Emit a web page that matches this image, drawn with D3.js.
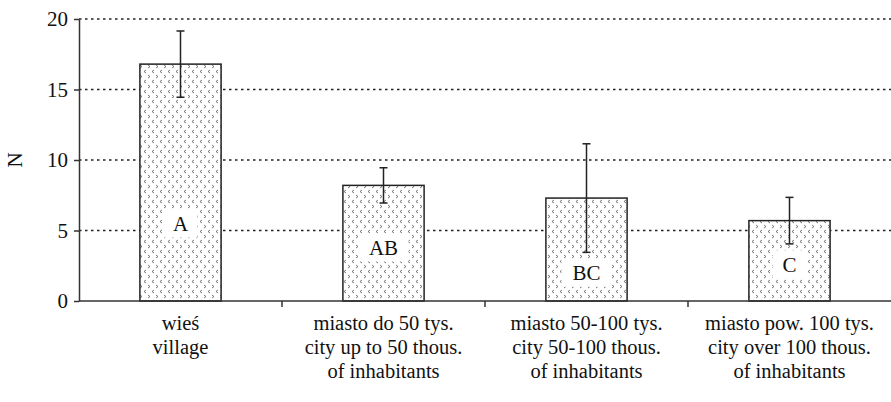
<!DOCTYPE html>
<html>
<head>
<meta charset="utf-8">
<script src="https://d3js.org/d3.v7.min.js"></script>
<style>
    body { margin: 0; background: #fff; }
    svg text { fill: #111; }
    .grid line { stroke: #222; stroke-width: 1.3; stroke-dasharray: 2.5 3.5; }
    .axis path, .axis line { stroke: #333; stroke-width: 1.5; }
</style>
</head>
<body>
<svg id="chart" width="891" height="402" font-family="'Liberation Serif', 'DejaVu Serif', 'Noto Serif', Times, serif"></svg>
<script>
// groups (Polish / English)
var plLabels = ["wieś", "miasto do 50 tys.", "miasto 50-100 tys.", "miasto pow. 100 tys."];
var enLabels = [["village"], ["city up to 50 thous.", "of inhabitants"], ["city 50-100 thous.", "of inhabitants"], ["city over 100 thous.", "of inhabitants"]];
var means = [16.8, 8.2, 7.3, 5.7];
var errors = [2.35, 1.25, 3.85, 1.65];
var letters = ["A", "AB", "BC", "C"];
var letterAt = [5.5, 3.8, 2.0, 2.6];
var yTicks = [0, 5, 10, 15, 20];

var margin = { top: 19, right: 0, bottom: 101, left: 79 },
    width = 891 - margin.left - margin.right,
    height = 402 - margin.top - margin.bottom;

var svg = d3.select("#chart");

// texture for the bars
var defs = svg.append("defs");
var pat = defs.append("pattern")
    .attr("id", "tex")
    .attr("patternUnits", "userSpaceOnUse")
    .attr("width", 8).attr("height", 10);
pat.append("rect").attr("width", 8).attr("height", 10).attr("fill", "#fff");
pat.append("path").attr("d", "M3,1 L1,2.5 L3,4").attr("fill", "none").attr("stroke", "#555").attr("stroke-width", 0.8);
pat.append("path").attr("d", "M5,6 L7,7.5 L5,9").attr("fill", "none").attr("stroke", "#555").attr("stroke-width", 0.8);

var g = svg.append("g").attr("transform", "translate(" + margin.left + "," + margin.top + ")");

var x = d3.scaleBand().domain(plLabels).range([0, width]).paddingInner(0.6).paddingOuter(0.3);
var y = d3.scaleLinear().domain([0, 20]).range([height, 0]);

// dotted gridlines
g.append("g").attr("class", "grid")
    .selectAll("line").data(yTicks.filter(function(d) { return d > 0; }))
    .enter().append("line")
    .attr("x1", 0).attr("x2", width)
    .attr("y1", function(d) { return y(d); }).attr("y2", function(d) { return y(d); });

// bars
g.selectAll("rect.bar").data(means).enter().append("rect")
    .attr("class", "bar")
    .attr("x", function(d, i) { return x(plLabels[i]); })
    .attr("y", function(d) { return y(d); })
    .attr("width", x.bandwidth())
    .attr("height", function(d) { return height - y(d); })
    .attr("fill", "url(#tex)")
    .attr("stroke", "#222").attr("stroke-width", 1.5);

// error bars
var eb = g.selectAll("g.err").data(means).enter().append("g").attr("class", "err")
    .attr("transform", function(d, i) { return "translate(" + (x(plLabels[i]) + x.bandwidth() / 2) + ",0)"; });
eb.append("line")
    .attr("y1", function(d, i) { return y(d + errors[i]); })
    .attr("y2", function(d, i) { return y(d - errors[i]); })
    .attr("stroke", "#222").attr("stroke-width", 1.5);
eb.append("line").attr("x1", -4).attr("x2", 4)
    .attr("y1", function(d, i) { return y(d + errors[i]); })
    .attr("y2", function(d, i) { return y(d + errors[i]); })
    .attr("stroke", "#222").attr("stroke-width", 1.5);
eb.append("line").attr("x1", -4).attr("x2", 4)
    .attr("y1", function(d, i) { return y(d - errors[i]); })
    .attr("y2", function(d, i) { return y(d - errors[i]); })
    .attr("stroke", "#222").attr("stroke-width", 1.5);

// letters in white boxes
var lab = g.selectAll("g.lab").data(letters).enter().append("g").attr("class", "lab")
    .attr("transform", function(d, i) { return "translate(" + (x(plLabels[i]) + x.bandwidth() / 2) + "," + y(letterAt[i]) + ")"; });
lab.append("rect")
    .attr("x", function(d) { return -(d.length * 8 + 9); })
    .attr("width", function(d) { return 2 * (d.length * 8 + 9); })
    .attr("y", -14).attr("height", 28).attr("fill", "#fff");
lab.append("text").attr("text-anchor", "middle").attr("dy", "0.35em")
    .style("font-size", "21px").text(function(d) { return d; });

// y axis
var yAxis = g.append("g").attr("class", "axis")
    .call(d3.axisLeft(y).tickValues(yTicks).tickSize(5).tickSizeOuter(0).tickPadding(6));
yAxis.attr("font-family", null);
yAxis.selectAll("text").style("font-size", "21px");

// x axis with ticks between groups
var xa = g.append("g").attr("class", "axis").attr("transform", "translate(0," + height + ")");
xa.append("line").attr("x1", 0).attr("x2", width);
xa.selectAll("line.tk").data(plLabels.slice(1)).enter().append("line").attr("class", "tk")
    .attr("x1", function(d) { return x(d) - x.step() * x.paddingInner() / 2; })
    .attr("x2", function(d) { return x(d) - x.step() * x.paddingInner() / 2; })
    .attr("y1", 0).attr("y2", 6);

// category labels
var cl = g.selectAll("text.cat").data(plLabels).enter().append("text").attr("class", "cat")
    .attr("text-anchor", "middle")
    .attr("y", height + 29)
    .style("font-size", "20.5px");
cl.each(function(d, i) {
    var t = d3.select(this);
    var cx = x(d) + x.bandwidth() / 2;
    t.append("tspan").attr("x", cx).text(d);
    enLabels[i].forEach(function(s) {
        t.append("tspan").attr("x", cx).attr("dy", 24).text(s);
    });
});

// y label
svg.append("text")
    .attr("transform", "translate(22," + (margin.top + height / 2) + ") rotate(-90)")
    .attr("text-anchor", "middle")
    .style("font-size", "21px")
    .text("N");
</script>
</body>
</html>
